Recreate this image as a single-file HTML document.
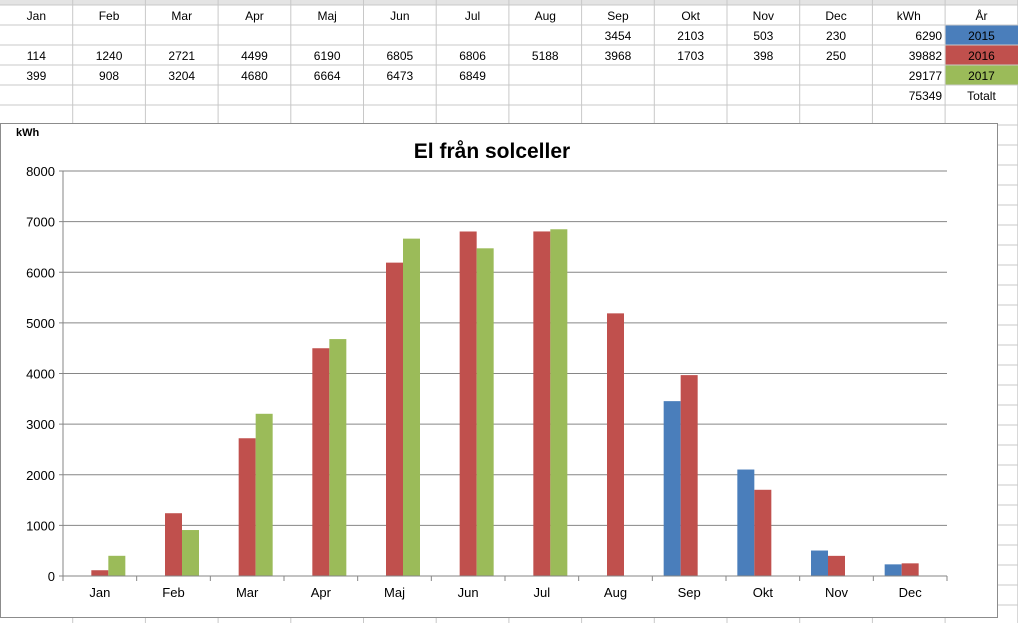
<!DOCTYPE html>
<html><head><meta charset="utf-8"><style>
body{margin:0;background:#fff;width:1018px;height:623px;overflow:hidden}
svg{display:block;font-family:"Liberation Sans",Arial,sans-serif}
</style></head><body>
<svg id="s" width="1018" height="623" viewBox="0 0 1018 623">
<g id="grid"></g>
<g id="cells"></g>
<rect x="0.5" y="123.5" width="997" height="494" fill="#fff" stroke="#8c8c8c"/>
<text x="16" y="136" font-size="11" font-weight="bold" fill="#000">kWh</text>
<text x="492" y="158" font-size="21" font-weight="bold" text-anchor="middle" fill="#000">El från solceller</text>
<g id="plot"></g>
</svg>
<script>
const months=["Jan","Feb","Mar","Apr","Maj","Jun","Jul","Aug","Sep","Okt","Nov","Dec"];
const y2015=[null,null,null,null,null,null,null,null,3454,2103,503,230];
const y2016=[114,1240,2721,4499,6190,6805,6806,5188,3968,1703,398,250];
const y2017=[399,908,3204,4680,6664,6473,6849,null,null,null,null,null];
const totals=[6290,39882,29177,75349];
const yearLabels=["2015","2016","2017","Totalt"];
const yTicks=[0,1000,2000,3000,4000,5000,6000,7000,8000];
const colors=["#4a7ebb","#c0504d","#9bbb59"];
const NS="http://www.w3.org/2000/svg";
function mk(t,a,p,txt){const e=document.createElementNS(NS,t);for(const k in a)e.setAttribute(k,a[k]);if(txt!=null)e.textContent=txt;p.appendChild(e);return e;}
// spreadsheet grid
const grid=document.getElementById('grid'),cells=document.getElementById('cells');
const cw=72.7;
mk('rect',{x:0,y:0,width:1018,height:5,fill:'#e4e4e4'},grid);
for(let i=1;i<=14;i++){const l=mk('line',{x1:i*cw,y1:0,x2:i*cw,y2:623,stroke:'#c8c8c8','stroke-width':1},grid);}
for(let r=0;r<31;r++){const y=5+r*20;mk('line',{x1:0,y1:y,x2:1018,y2:y,stroke:'#c8c8c8','stroke-width':1},grid);}
const yearFill=["#4a7ebb","#c0504d","#9bbb59",null];
yearLabels.forEach((l,i)=>{if(yearFill[i]){const r=mk('rect',{x:13*cw+0.5,y:25+i*20+0.5,width:cw,height:19,fill:yearFill[i]},cells);}});
function cell(col,row,txt,anchor){const y=20+row*20;let x=anchor==='end'?(col+1)*cw-3:col*cw+cw/2;const t=mk('text',{x:x,y:y,'font-size':12,'text-anchor':anchor||'middle',fill:'#000'},cells,txt);}
months.forEach((m,i)=>cell(i,0,m));
cell(12,0,"kWh");cell(13,0,"År");
[y2015,y2016,y2017].forEach((s,r)=>s.forEach((v,i)=>{if(v!=null)cell(i,r+1,String(v));}));
totals.forEach((v,i)=>{cell(12,i+1,String(v),'end');cell(13,i+1,yearLabels[i]);});
// chart
const plot=document.getElementById('plot');
const x0=63,x1=947,yZ=576,yT=171,yMax=8000;
const yS=v=>yZ-(v/yMax)*(yZ-yT);
const bw=(x1-x0)/months.length;
yTicks.forEach(v=>{const y=yS(v);
 if(v>0){const g=mk('line',{x1:x0,y1:y,x2:x1,y2:y,stroke:'#868686','stroke-width':1},plot);}
 mk('line',{x1:x0-4,y1:y,x2:x0,y2:y,stroke:'#868686'},plot);
 const t=mk('text',{x:x0-8,y:y+5,'font-size':13,'text-anchor':'end',fill:'#000'},plot,String(v));});
mk('line',{x1:x0,y1:yT,x2:x0,y2:yZ,stroke:'#868686'},plot);
const series=[y2015,y2016,y2017],barW=17;
months.forEach((m,i)=>{const cx=x0+i*bw;
 series.forEach((s,k)=>{const v=s[i];if(v==null)return;const r=mk('rect',{x:cx+bw/2-1.5*barW+k*barW,y:yS(v),width:barW,height:yZ-yS(v),fill:colors[k]},plot);});
 const t=mk('text',{x:cx+bw/2,y:yZ+21,'font-size':13,'text-anchor':'middle',fill:'#000'},plot,m);
});
for(let i=0;i<=months.length;i++){const x=x0+i*bw;mk('line',{x1:x,y1:yZ,x2:x,y2:yZ+5,stroke:'#868686'},plot);}
const ax=mk('line',{x1:x0,y1:yZ,x2:x1,y2:yZ,stroke:'#868686'},plot);
</script>
</body></html>
